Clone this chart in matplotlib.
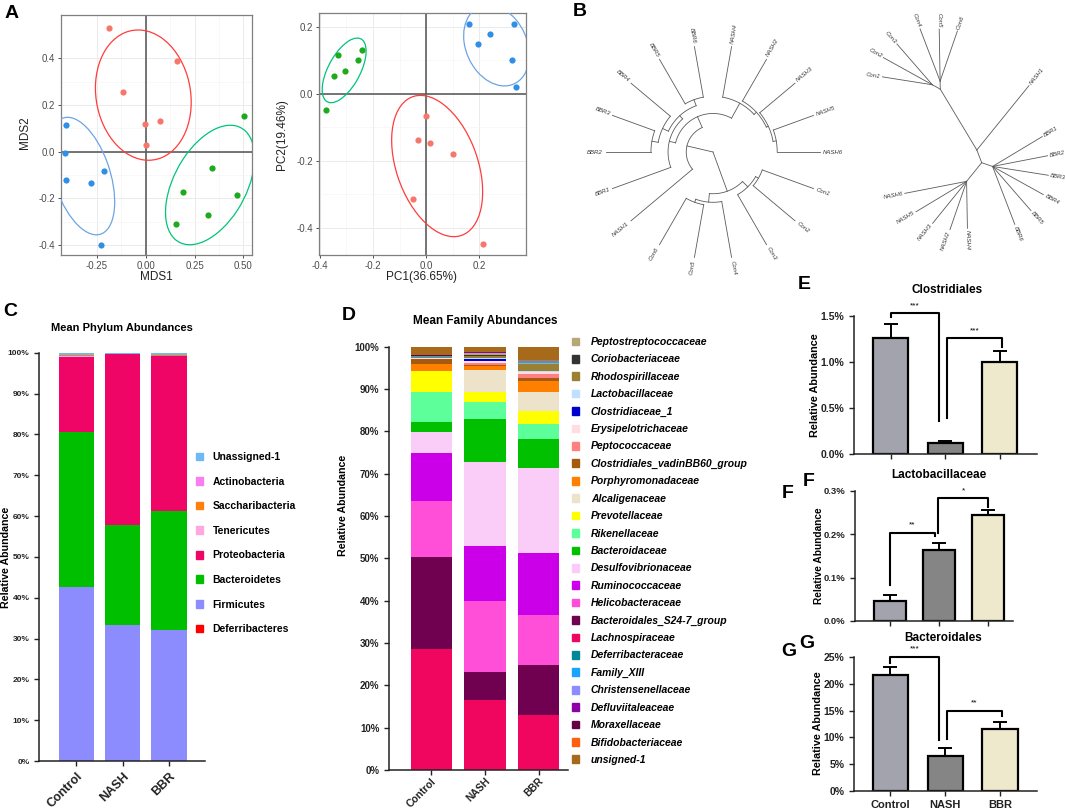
import numpy as np
import matplotlib.pyplot as plt
from matplotlib.patches import Ellipse, Patch

plt.rcParams['font.family'] = ['Liberation Sans', 'DejaVu Sans']
plt.rcParams['axes.unicode_minus'] = False

W, H = 1065, 809
fig = plt.figure(figsize=(W / 100, H / 100), dpi=100)


def ax_px(x0, y0, x1, y1):
    return fig.add_axes([x0 / W, 1 - y1 / H, (x1 - x0) / W, (y1 - y0) / H])


def txt(x, y, s, **kw):
    kw.setdefault('ha', 'center')
    kw.setdefault('va', 'center')
    fig.text(x / W, 1 - y / H, s, **kw)


# ---------------- data ----------------
groups = ["Control", "NASH", "BBR"]

# A, NMDS
mds1_red = [-0.19, 0.16, -0.115, -0.005, 0.075, 0.0]
mds2_red = [0.53, 0.39, 0.255, 0.12, 0.13, 0.03]
mds1_blue = [-0.41, -0.415, -0.41, -0.28, -0.215, -0.23]
mds2_blue = [0.115, -0.005, -0.12, -0.135, -0.082, -0.40]
mds1_green = [0.505, 0.34, 0.19, 0.465, 0.32, 0.155]
mds2_green = [0.155, -0.07, -0.175, -0.185, -0.272, -0.31]

# A, PCA
pc1_red = [0.0, -0.03, 0.015, 0.10, -0.05, 0.215]
pc2_red = [-0.065, -0.138, -0.147, -0.18, -0.315, -0.45]
pc1_blue = [0.16, 0.33, 0.24, 0.195, 0.325, 0.34]
pc2_blue = [0.21, 0.21, 0.178, 0.148, 0.102, 0.02]
pc1_green = [-0.375, -0.345, -0.33, -0.305, -0.255, -0.24]
pc2_green = [-0.048, 0.055, 0.115, 0.068, 0.102, 0.13]

# B, clustering tree (node height as fraction of tip radius, children)
fan_tree = (0.0, [
    (0.25, [
        (0.36, [
            (0.52, [(0.55, [(0.57, [(0.60, ["NASH6", "NASH5"]), "NASH3"]), "NASH2"]), "NASH4"]),
            (0.42, [(0.46, [(0.52, ["BBR6", "BBR5"]),
                            (0.52, ["BBR4", (0.58, ["BBR3", "BBR2"])])]), "BBR1"]),
        ]),
        "NASH1",
    ]),
    (0.39, [(0.47, [(0.50, ["Con6", "Con5"]), "Con4"]),
            (0.46, ["Con3", (0.49, ["Con2", "Con1"])])]),
])

# B, unrooted tree (branch length, children) / (tip, branch length)
unrooted_tree = [
    (13.6, [("NASH1", 82.8),
            (71.0, [(8.0, [("Con6", 53), ("Con5", 52), ("Con4", 56)]),
                    (9.0, [("Con3", 54), ("Con2", 56), ("Con1", 50.6)])])]),
    (24.0, [("NASH6", 63), ("NASH5", 59), ("NASH3", 54), ("NASH2", 51), ("NASH4", 47)]),
    (11.5, [("BBR6", 62), ("BBR5", 58.5), ("BBR4", 58), ("BBR3", 56.5), ("BBR2", 56), ("BBR1", 58)]),
]

# C, phylum (legend order, top to bottom)
phyla = ["Unassigned-1", "Actinobacteria", "Saccharibacteria", "Tenericutes",
         "Proteobacteria", "Bacteroidetes", "Firmicutes", "Deferribacteres"]
phylum_colors = ["#6EB9F5", "#F77FF0", "#FF7F0E", "#FFA8DF",
                 "#EF0565", "#00BF00", "#8C8CFF", "#FF0000"]
phylum_control = [0.45, 0.1, 0.2, 0.4, 18.3, 38.0, 42.5, 0.05]
phylum_nash = [0.2, 0.05, 0.05, 0.05, 41.9, 24.4, 33.3, 0.05]
phylum_bbr = [0.5, 0.1, 0.2, 0.1, 37.9, 29.1, 32.0, 0.1]

# D, family (stack order, bottom to top)
families = ["Lachnospiraceae", "Bacteroidales_S24-7_group", "Helicobacteraceae",
            "Ruminococcaceae", "Desulfovibrionaceae", "Bacteroidaceae", "Rikenellaceae",
            "Prevotellaceae", "Alcaligenaceae", "Porphyromonadaceae",
            "Clostridiales_vadinBB60_group", "Peptococcaceae", "Erysipelotrichaceae",
            "Clostridiaceae_1", "Lactobacillaceae", "Rhodospirillaceae", "Coriobacteriaceae",
            "Peptostreptococcaceae", "Deferribacteraceae", "Family_XIII",
            "Christensenellaceae", "Defluviitaleaceae", "Moraxellaceae",
            "Bifidobacteriaceae", "unsigned-1"]
family_colors = ["#F0055F", "#700050", "#FF4FD8", "#CC00E8", "#FACCF8", "#00C000",
                 "#5CFF9A", "#FFFF00", "#EDE3CA", "#FF8000", "#A65A10", "#FF8080",
                 "#FFDDE2", "#0000CC", "#BFDFFF", "#998033", "#333333", "#B8A878",
                 "#008899", "#1AA3FF", "#8C8CFF", "#8C00A6", "#660044", "#FF6010",
                 "#A66A1A"]
family_control = [28.7, 21.6, 13.2, 11.5, 4.8, 2.5, 7.0, 4.9, 0.1, 1.55, 1.2, 0.1, 0.1,
                  0.05, 0.05, 0.1, 0.05, 0.05, 0.05, 0.2, 0.05, 0.05, 0.05, 0.05, 2.05]
family_nash = [16.5, 6.7, 16.8, 12.9, 19.8, 10.2, 4.1, 2.2, 5.3, 1.0, 0.1, 0.6, 0.5,
               0.4, 0.17, 0.6, 0.1, 0.5, 0.05, 0.05, 0.05, 0.05, 0.05, 0.05, 1.2]
family_bbr = [13.0, 11.7, 12.0, 14.5, 20.2, 6.8, 3.5, 3.0, 4.5, 2.6, 0.8, 0.9, 0.5,
              0.05, 0.25, 1.6, 0.1, 0.2, 0.05, 0.3, 0.05, 0.05, 0.05, 0.05, 3.2]

# E-G, relative abundance (%), mean and SEM
bar_colors = ["#A3A3AD", "#858585", "#EEE8CD"]
clos_mean = [1.26, 0.12, 1.00]
clos_sem = [0.145, 0.025, 0.115]
lacto_mean = [0.046, 0.165, 0.245]
lacto_sem = [0.014, 0.015, 0.012]
bact_mean = [21.7, 6.5, 11.5]
bact_sem = [1.4, 1.5, 1.3]
# brackets: x left, x right, left foot, top, right foot, label
clos_brackets = [(0.0, 0.89, 1.485, 1.526, 0.364, "***"),
                 (1.03, 2.04, 0.39, 1.255, 1.164, "***")]
lacto_brackets = [(0.0, 0.91, 0.083, 0.204, 0.197, "**"),
                  (0.98, 2.0, 0.202, 0.283, 0.264, "*")]
bact_brackets = [(0.0, 0.88, 23.9, 25.1, 9.5, "***"),
                 (1.035, 2.03, 9.7, 15.0, 14.0, "**")]

RED_PT, BLUE_PT, GREEN_PT = "#F6766C", "#2F8FE6", "#1DAA1D"
RED_EL, BLUE_EL, GREEN_EL = "#FF3C3C", "#6EA4E4", "#00C47A"


# ---------------- A ----------------
def conf_ellipse(ax, x, y, color, k_major=1.45, k_minor=2.1):
    vals, vecs = np.linalg.eigh(np.cov(x, y))
    ang = np.degrees(np.arctan2(vecs[1, 1], vecs[0, 1]))
    ax.add_patch(Ellipse((np.mean(x), np.mean(y)), 2 * k_major * np.sqrt(vals[1]),
                         2 * k_minor * np.sqrt(vals[0]), angle=ang, fill=False,
                         edgecolor=color, lw=0.9, zorder=3))


def gg_axes(ax, xt, yt, xfmt, yfmt):
    ax.set_xticks(xt)
    ax.set_yticks(yt)
    ax.set_xticklabels([xfmt % v for v in xt])
    ax.set_yticklabels([yfmt % v for v in yt])
    ax.set_xticks([(a + b) / 2 for a, b in zip(xt[:-1], xt[1:])], minor=True)
    ax.set_yticks([(a + b) / 2 for a, b in zip(yt[:-1], yt[1:])], minor=True)
    ax.grid(True, which='major', color='#EBEBEB', lw=0.7)
    ax.grid(True, which='minor', color='#F5F5F5', lw=0.5)
    ax.set_axisbelow(True)
    for s in ax.spines.values():
        s.set_color('#7F7F7F')
        s.set_linewidth(0.9)
    ax.tick_params(which='major', colors='#333333', labelcolor='#4D4D4D',
                   labelsize=7, length=2.5, width=0.6, pad=1.5)
    ax.tick_params(which='minor', length=0)
    ax.axhline(0, color='#5E5E5E', lw=1.2, zorder=1)
    ax.axvline(0, color='#5E5E5E', lw=1.2, zorder=1)


ax = ax_px(61, 15, 252, 255)
for xs, ys, pc, ec in [(mds1_red, mds2_red, RED_PT, RED_EL),
                       (mds1_blue, mds2_blue, BLUE_PT, BLUE_EL),
                       (mds1_green, mds2_green, GREEN_PT, GREEN_EL)]:
    ax.scatter(xs, ys, s=20, color=pc, lw=0, zorder=4)
    conf_ellipse(ax, xs, ys, ec)
ax.set_xlim(-0.434, 0.544)
ax.set_ylim(-0.443, 0.586)
gg_axes(ax, [-0.25, 0.0, 0.25, 0.5], [-0.4, -0.2, 0.0, 0.2, 0.4], "%.2f", "%.1f")
txt(156.7, 277, "MDS1", fontsize=8.5, color='#222222')
txt(25, 133, "MDS2", fontsize=8.5, color='#222222', rotation=90)

ax = ax_px(319, 13, 526, 255)
for xs, ys, pc, ec in [(pc1_red, pc2_red, RED_PT, RED_EL),
                       (pc1_blue, pc2_blue, BLUE_PT, BLUE_EL),
                       (pc1_green, pc2_green, GREEN_PT, GREEN_EL)]:
    ax.scatter(xs, ys, s=20, color=pc, lw=0, zorder=4)
    conf_ellipse(ax, xs, ys, ec)
ax.set_xlim(-0.403, 0.376)
ax.set_ylim(-0.482, 0.242)
gg_axes(ax, [-0.4, -0.2, 0.0, 0.2], [-0.4, -0.2, 0.0, 0.2], "%.1f", "%.1f")
txt(421.7, 277, "PC1(36.65%)", fontsize=8.5, color='#222222')
txt(282, 135, "PC2(19.46%)", fontsize=8.5, color='#222222', rotation=90)

# ---------------- B ----------------
TREE_LC = '#5A5A5A'
LEAF_STEP = 20.0
R_TIP = 107.0


def tip_label(ax, x, y, ang, s):
    a = ang % 360
    if 90 < a < 270:
        rot, ha = a - 180, 'right'
    else:
        rot, ha = a, 'left'
    ax.text(x, y, s, fontsize=4.3, style='italic', color='#333333', rotation=rot,
            rotation_mode='anchor', ha=ha, va='center')


def draw_fan(ax, node, counter):
    if isinstance(node, str):
        a = counter[0] * LEAF_STEP
        counter[0] += 1
        t = np.radians(a)
        tip_label(ax, (R_TIP + 3) * np.cos(t), (R_TIP + 3) * np.sin(t), a, node)
        return a, 1.0
    r, kids = node
    res = [draw_fan(ax, k, counter) for k in kids]
    angs = [a for a, _ in res]
    th = np.radians(np.linspace(min(angs), max(angs), 60))
    ax.plot(r * R_TIP * np.cos(th), r * R_TIP * np.sin(th), color=TREE_LC, lw=0.6)
    for a, rk in res:
        t = np.radians(a)
        ax.plot([r * R_TIP * np.cos(t), rk * R_TIP * np.cos(t)],
                [r * R_TIP * np.sin(t), rk * R_TIP * np.sin(t)], color=TREE_LC, lw=0.6)
    return np.mean(angs), r


ax = ax_px(575, 5, 860, 290)
draw_fan(ax, fan_tree, [0])
ax.set_xlim(575 - 713, 860 - 713)
ax.set_ylim(152 - 290, 152 - 5)
ax.axis('off')


def n_leaves(c):
    return 1 if isinstance(c[0], str) else sum(n_leaves(k) for k in c[1])


def draw_unrooted(ax, children, x, y, a0, span):
    total = sum(n_leaves(c) for c in children)
    a = a0
    for c in children:
        w = span * n_leaves(c) / total
        mid = np.radians(a + w / 2)
        L = c[1] if isinstance(c[0], str) else c[0]
        x2, y2 = x + L * np.cos(mid), y + L * np.sin(mid)
        ax.plot([x, x2], [y, y2], color=TREE_LC, lw=0.6)
        if isinstance(c[0], str):
            tip_label(ax, x2 + 2 * np.cos(mid), y2 + 2 * np.sin(mid), a + w / 2, c[0])
        else:
            draw_unrooted(ax, c[1], x2, y2, a, w)
        a += w


ax = ax_px(860, 5, 1065, 250)
draw_unrooted(ax, unrooted_tree, 0.0, 0.0, 41.0, 360.0)
ax.set_xlim(860 - 981.7, 1065 - 981.7)
ax.set_ylim(162.7 - 250, 162.7 - 5)
ax.axis('off')


# ---------------- C & D ----------------
def prism_axes(ax, ylabsize, xlabsize, xpad):
    for s in ['top', 'right']:
        ax.spines[s].set_visible(False)
    for s in ['left', 'bottom']:
        ax.spines[s].set_linewidth(1.1)
        ax.spines[s].set_color('#222222')
    ax.tick_params(direction='out', length=3.5, width=1.0, colors='#222222')
    ax.tick_params(axis='x', pad=xpad)
    ax.set_ylim(0, 100)
    ax.set_yticks(np.arange(0, 101, 10))
    ax.set_yticklabels(["%d%%" % v for v in range(0, 101, 10)],
                       fontsize=ylabsize, fontweight='bold')
    ax.set_xticks(range(3))
    ax.set_xticklabels(groups, rotation=45, ha='right', rotation_mode='anchor',
                       fontsize=xlabsize, fontweight='bold')


ax = ax_px(39.3, 352.7, 205, 761)
vals = np.array([phylum_control, phylum_nash, phylum_bbr])
bottom = np.zeros(3)
for i in range(len(phyla) - 1, -1, -1):
    ax.bar(range(3), vals[:, i], bottom=bottom, width=0.77, color=phylum_colors[i], lw=0)
    bottom += vals[:, i]
ax.set_xlim(-0.8, 2.78)
prism_axes(ax, 6, 9, 3.5)
txt(122, 328, "Mean Phylum Abundances", fontsize=8, fontweight='bold')
txt(6.5, 557, "Relative Abundance", fontsize=7.7, fontweight='bold', rotation=90)
fig.legend(handles=[Patch(color=c, label=p) for c, p in zip(phylum_colors, phyla)],
           loc='upper left', bbox_to_anchor=(195.5 / W, 1 - 452 / H), frameon=False,
           prop={'weight': 'bold', 'size': 7.5}, handlelength=0.75,
           handleheight=0.75, handletextpad=0.9, labelspacing=1.4, borderpad=0,
           borderaxespad=0)

ax = ax_px(389, 346.7, 568, 770)
vals = np.array([family_control, family_nash, family_bbr])
bottom = np.zeros(3)
for i in range(len(families)):
    ax.bar(range(3), vals[:, i], bottom=bottom, width=0.776, color=family_colors[i], lw=0)
    bottom += vals[:, i]
ax.set_xlim(-0.79, 2.55)
prism_axes(ax, 7, 7.4, 1.0)
txt(485, 321, "Mean Family Abundances", fontsize=8.5, fontweight='bold')
txt(342.7, 505, "Relative Abundance", fontsize=7.7, fontweight='bold', rotation=90)
leg_order = list(range(17, -1, -1)) + list(range(18, len(families)))
fig.legend(handles=[Patch(color=family_colors[i], label=families[i]) for i in leg_order],
           loc='upper left', bbox_to_anchor=(571.5 / W, 1 - 337 / H), frameon=False,
           prop={'weight': 'bold', 'style': 'italic', 'size': 7.5}, handlelength=0.75,
           handleheight=0.75, handletextpad=1.1, labelspacing=0.71, borderpad=0,
           borderaxespad=0)


# ---------------- E, F, G ----------------
def sig_panel(box, means, sems, xlim, ylim, yticks, ylabels, brackets, show_x, ysize):
    ax = ax_px(*box)
    x = np.arange(3)
    ax.bar(x, means, width=0.645, color=bar_colors, edgecolor='black', lw=1.6, zorder=2)
    ax.errorbar(x, means, yerr=[np.zeros(3), sems], fmt='none', ecolor='black',
                elinewidth=1.4, capsize=5, capthick=1.4, zorder=3)
    for xl, xr, yl, yt, yr, lab in brackets:
        ax.plot([xl, xl, xr, xr], [yl, yt, yt, yr], color='black', lw=1.5,
                clip_on=False, zorder=4)
        ax.text((xl + xr) / 2, yt + (ylim[1] - ylim[0]) * 0.03, lab, ha='center',
                va='bottom', fontsize=6, clip_on=False)
    ax.set_xlim(*xlim)
    ax.set_ylim(*ylim)
    for s in ['top', 'right']:
        ax.spines[s].set_visible(False)
    for s in ['left', 'bottom']:
        ax.spines[s].set_linewidth(1.1)
        ax.spines[s].set_color('#222222')
    ax.tick_params(direction='out', length=3.5, width=1.0, colors='#222222')
    ax.set_yticks(yticks)
    ax.set_yticklabels(ylabels, fontsize=ysize, fontweight='bold')
    ax.set_xticks(x)
    if show_x:
        ax.set_xticklabels(groups, fontsize=8, fontweight='bold')
    else:
        ax.set_xticklabels([])
    return ax


sig_panel((854.3, 315.7, 1036.7, 454.3), clos_mean, clos_sem, (-0.67, 2.68), (0, 1.5),
          [0, 0.5, 1.0, 1.5], ["0.0%", "0.5%", "1.0%", "1.5%"], clos_brackets, False, 7.5)
txt(946.7, 290, "Clostridiales", fontsize=8.5, fontweight='bold')
txt(815, 385, "Relative Abundance", fontsize=7.8, fontweight='bold', rotation=90)

sig_panel((855, 491, 1013.3, 621), lacto_mean, lacto_sem, (-0.71, 2.51), (0, 0.3),
          [0, 0.1, 0.2, 0.3], ["0.0%", "0.1%", "0.2%", "0.3%"], lacto_brackets, False, 6.8)
txt(939, 475, "Lactobacillaceae", fontsize=8.5, fontweight='bold')
txt(819.5, 556, "Relative Abundance", fontsize=7.3, fontweight='bold', rotation=90)

sig_panel((854.3, 657.3, 1036.7, 790.7), bact_mean, bact_sem, (-0.66, 2.67), (0, 25),
          [0, 5, 10, 15, 20, 25], ["0%", "5%", "10%", "15%", "20%", "25%"],
          bact_brackets, True, 7.5)
txt(943, 638, "Bacteroidales", fontsize=8.5, fontweight='bold')
txt(818, 723, "Relative Abundance", fontsize=7.8, fontweight='bold', rotation=90)

# panel letters
for x, y, s in [(12, 14, "A"), (580, 12, "B"), (10, 312, "C"), (349, 315, "D"),
                (804, 285, "E"), (788, 494, "F"), (809, 481, "F"),
                (789, 651, "G"), (807, 643, "G")]:
    txt(x, y, s, fontsize=14, fontweight='bold')

fig.savefig("out.png", dpi=100)
